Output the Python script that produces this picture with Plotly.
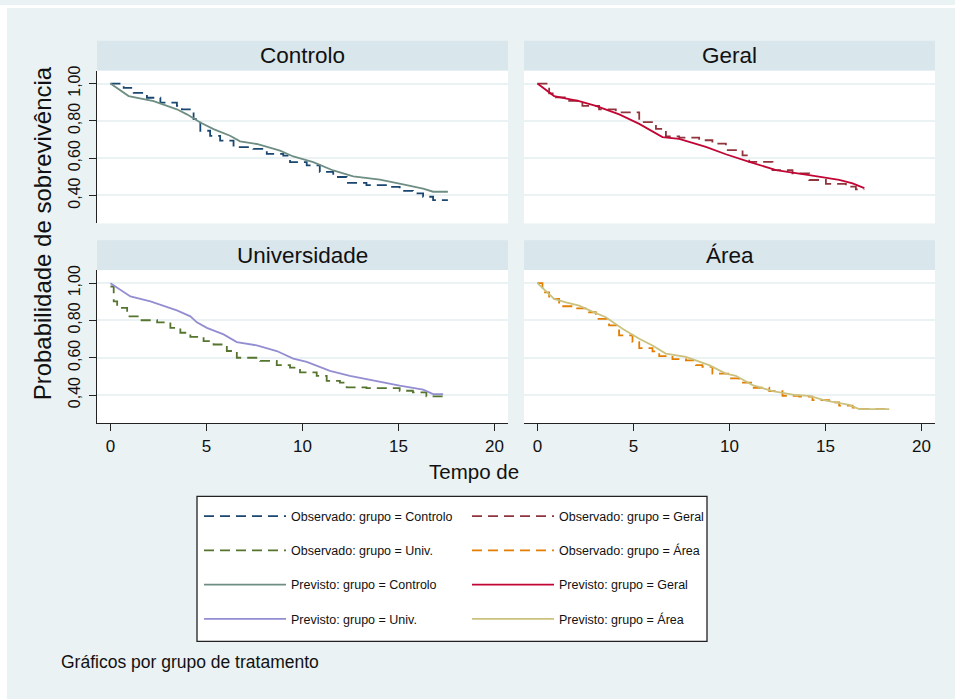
import plotly.graph_objects as go

W, H = 955, 699
FONT = "Liberation Sans, Arial, sans-serif"

# ---------------- data ----------------
obs_ctrl_t = [0, 0.69, 1.21, 1.9, 2.6, 3.46, 3.72, 4.33, 4.68, 5.19, 5.71, 6.41, 7.44, 8.14, 9.0, 9.35,
              10.22, 10.9, 11.6, 12.3, 13.33, 14.55, 15.06, 15.75, 16.28, 16.8, 17.57]
obs_ctrl_s = [1.0, 0.977, 0.95, 0.924, 0.898, 0.88, 0.862, 0.809, 0.747, 0.72, 0.694, 0.659, 0.65, 0.623,
              0.614, 0.579, 0.561, 0.526, 0.499, 0.467, 0.455, 0.446, 0.425, 0.411, 0.393, 0.375, 0.375]
prev_ctrl_t = [0, 0.95, 2.25, 3.46, 3.98, 4.68, 5.37, 6.23, 6.75, 7.62, 8.83, 9.52, 10.56, 11.6, 12.64,
               14.03, 15.24, 16.28, 16.8, 17.57]
prev_ctrl_s = [1.0, 0.933, 0.906, 0.862, 0.835, 0.791, 0.756, 0.72, 0.69, 0.676, 0.64, 0.609, 0.579,
               0.534, 0.502, 0.485, 0.46, 0.437, 0.42, 0.42]

obs_geral_t = [0, 0.61, 0.96, 1.48, 2.34, 3.21, 4.08, 5.3, 6.17, 6.69, 7.38, 8.42, 9.11, 9.81, 10.68,
               11.03, 12.24, 13.28, 14.15, 15.02, 16.06, 16.58, 17.02]
obs_geral_s = [1.0, 0.947, 0.926, 0.908, 0.88, 0.862, 0.846, 0.793, 0.757, 0.717, 0.71, 0.696, 0.678,
               0.643, 0.615, 0.58, 0.536, 0.518, 0.483, 0.462, 0.447, 0.433, 0.433]
prev_geral_t = [0, 0.87, 2.17, 3.04, 4.26, 5.3, 6.51, 7.38, 8.77, 9.81, 11.03, 12.42, 14.15, 15.71,
                16.41, 17.02]
prev_geral_s = [1.0, 0.933, 0.906, 0.88, 0.835, 0.784, 0.713, 0.704, 0.66, 0.621, 0.58, 0.536, 0.509,
                0.483, 0.465, 0.439]

obs_univ_t = [0, 0.17, 0.35, 0.87, 1.56, 2.43, 3.12, 3.64, 4.16, 4.85, 5.37, 6.06, 6.58, 7.79, 8.66,
              9.35, 9.87, 10.74, 11.26, 11.95, 12.3, 13.33, 15.06, 15.75, 16.45, 17.4]
obs_univ_s = [0.982, 0.902, 0.867, 0.822, 0.801, 0.79, 0.76, 0.734, 0.712, 0.689, 0.671, 0.636, 0.6,
              0.583, 0.56, 0.547, 0.521, 0.503, 0.476, 0.467, 0.441, 0.437, 0.423, 0.414, 0.393, 0.393]
prev_univ_t = [0, 1.04, 2.08, 3.46, 4.16, 4.5, 5.02, 5.89, 6.58, 7.62, 8.66, 9.52, 10.22, 11.43, 12.47,
               13.33, 15.06, 16.28, 16.8, 17.32]
prev_univ_s = [1.0, 0.929, 0.902, 0.854, 0.822, 0.79, 0.76, 0.725, 0.684, 0.666, 0.636, 0.595, 0.578,
               0.53, 0.503, 0.485, 0.45, 0.429, 0.405, 0.405]

obs_area_t = [0, 0.26, 0.61, 1.13, 2.0, 2.69, 3.04, 3.73, 4.25, 4.95, 5.3, 5.99, 6.34, 7.03, 7.73, 8.25,
              8.59, 9.11, 9.98, 10.5, 11.2, 12.07, 12.76, 13.63, 14.32, 15.19, 15.71, 16.41, 16.75, 18.32]
obs_area_s = [1.0, 0.95, 0.915, 0.876, 0.865, 0.844, 0.808, 0.773, 0.72, 0.684, 0.652, 0.634, 0.609,
              0.592, 0.586, 0.56, 0.551, 0.515, 0.489, 0.467, 0.439, 0.421, 0.396, 0.391, 0.373, 0.361,
              0.343, 0.333, 0.324, 0.324]
prev_area_t = [0, 0.87, 1.48, 2.17, 2.86, 3.56, 4.43, 5.3, 5.99, 6.68, 7.73, 8.94, 9.81, 10.33, 11.2,
               12.24, 13.45, 14.15, 15.02, 16.23, 16.75, 18.32]
prev_area_s = [1.0, 0.915, 0.897, 0.879, 0.847, 0.817, 0.755, 0.702, 0.666, 0.622, 0.604, 0.56, 0.515,
               0.503, 0.453, 0.421, 0.4, 0.396, 0.37, 0.347, 0.324, 0.324]

panel_titles = ["Controlo", "Geral", "Universidade", "Área"]
y_tickvals = [0.4, 0.6, 0.8, 1.0]
y_ticktext = ["0,40", "0,60", "0,80", "1,00"]
x_tickvals = [0, 5, 10, 15, 20]
x_ticktext = ["0", "5", "10", "15", "20"]

# colours (Stata s2color)
C_OBS_CTRL, C_OBS_GERAL, C_OBS_UNIV, C_OBS_AREA = "#1a476f", "#90353b", "#55752f", "#e37e00"
C_PRV_CTRL, C_PRV_GERAL, C_PRV_UNIV, C_PRV_AREA = "#6e8e84", "#c10534", "#938dd2", "#cac27e"

BG = "#EAF2F3"
STRIP = "#D9E6EB"
DASH = "10px,6px"
LW = 1.8

def px(x):
    return x / W

def py(y):
    return 1 - y / H

fig = go.Figure()

series = [
    (obs_ctrl_t, obs_ctrl_s, C_OBS_CTRL, DASH, "Observado: grupo = Controlo", "x", "y", "legend", 1, "hv"),
    (obs_univ_t, obs_univ_s, C_OBS_UNIV, DASH, "Observado: grupo = Univ.", "x3", "y3", "legend", 2, "hv"),
    (prev_ctrl_t, prev_ctrl_s, C_PRV_CTRL, "solid", "Previsto: grupo = Controlo", "x", "y", "legend", 3, "linear"),
    (prev_univ_t, prev_univ_s, C_PRV_UNIV, "solid", "Previsto: grupo = Univ.", "x3", "y3", "legend", 4, "linear"),
    (obs_geral_t, obs_geral_s, C_OBS_GERAL, DASH, "Observado: grupo = Geral", "x2", "y2", "legend2", 1, "hv"),
    (obs_area_t, obs_area_s, C_OBS_AREA, DASH, "Observado: grupo = Área", "x4", "y4", "legend2", 2, "hv"),
    (prev_geral_t, prev_geral_s, C_PRV_GERAL, "solid", "Previsto: grupo = Geral", "x2", "y2", "legend2", 3, "linear"),
    (prev_area_t, prev_area_s, C_PRV_AREA, "solid", "Previsto: grupo = Área", "x4", "y4", "legend2", 4, "linear"),
]

for t, s, col, dash, name, xa, ya, leg, rank, shp in series:
    fig.add_trace(go.Scatter(
        x=t, y=s, mode="lines", name=name, xaxis=xa, yaxis=ya,
        line=dict(color=col, width=LW, dash=dash, shape=shp),
        legend=leg, legendrank=rank, legendgroup=name, showlegend=True,
        hoverinfo="skip",
    ))

XL = [97, 508]
XR = [524, 935]
YT = [66, 220]
YB = [267, 421]
XRANGE = [-0.7, 20.7]
YRANGE = [0.25, 1.07]

common_y = dict(range=YRANGE, tickvals=y_tickvals, ticktext=y_ticktext, showgrid=True,
                gridcolor=BG, gridwidth=1.5, zeroline=False, fixedrange=True)
left_y = dict(common_y, showline=True, linecolor="#222", linewidth=1.3, ticks="outside", ticklen=7,
              tickcolor="#222", tickwidth=1.3, tickangle=-90, ticklabelstandoff=2,
              tickfont=dict(size=16, color="#111", family=FONT))
right_y = dict(common_y, showline=False, ticks="", showticklabels=False)
top_x = dict(range=XRANGE, showgrid=False, zeroline=False, showline=False, ticks="",
             showticklabels=False, fixedrange=True)
bot_x = dict(range=XRANGE, showgrid=False, zeroline=False, showline=True, linecolor="#222",
             linewidth=1.3, ticks="outside", ticklen=7, tickcolor="#222", tickwidth=1.3,
             tickvals=x_tickvals, ticktext=x_ticktext,
             tickfont=dict(size=17, color="#111", family=FONT), fixedrange=True)

fig.update_layout(
    width=W, height=H,
    margin=dict(l=0, r=0, t=0, b=0),
    paper_bgcolor=BG, plot_bgcolor="white",
    font=dict(family=FONT, color="#111"),
    xaxis=dict(top_x, domain=[px(XL[0]), px(XL[1])], anchor="y"),
    yaxis=dict(left_y, domain=[py(YT[1]), py(YT[0])], anchor="x"),
    xaxis2=dict(top_x, domain=[px(XR[0]), px(XR[1])], anchor="y2"),
    yaxis2=dict(right_y, domain=[py(YT[1]), py(YT[0])], anchor="x2"),
    xaxis3=dict(bot_x, domain=[px(XL[0]), px(XL[1])], anchor="y3"),
    yaxis3=dict(left_y, domain=[py(YB[1]), py(YB[0])], anchor="x3"),
    xaxis4=dict(bot_x, domain=[px(XR[0]), px(XR[1])], anchor="y4"),
    yaxis4=dict(right_y, domain=[py(YB[1]), py(YB[0])], anchor="x4"),
    showlegend=True,
)

leg_common = dict(orientation="v", bgcolor="rgba(0,0,0,0)", borderwidth=0,
                  font=dict(size=12.5, color="#111", family=FONT),
                  tracegroupgap=15, itemwidth=82, traceorder="grouped",
                  xanchor="left", yanchor="top", itemclick=False, itemdoubleclick=False)
fig.update_layout(
    legend=dict(leg_common, x=px(199), y=py(500)),
    legend2=dict(leg_common, x=px(467), y=py(500)),
)

shapes = []
shapes.append(dict(type="rect", xref="paper", yref="paper", x0=0, x1=px(7), y0=0, y1=1,
                   fillcolor="white", line=dict(width=0), layer="above"))
shapes.append(dict(type="rect", xref="paper", yref="paper", x0=0, x1=1, y0=py(3), y1=1,
                   fillcolor="white", line=dict(width=0), layer="above"))
for (xa, ya) in [(XL, 36), (XR, 36), (XL, 237), (XR, 237)]:
    shapes.append(dict(type="rect", xref="paper", yref="paper", x0=px(xa[0]), x1=px(xa[1]),
                       y0=py(ya + 30), y1=py(ya), fillcolor=STRIP, line=dict(width=0), layer="above"))
shapes.append(dict(type="rect", xref="paper", yref="paper", x0=px(197), x1=px(707), y0=py(641), y1=py(495),
                   fillcolor="white", line=dict(color="#222", width=1.3), layer="above"))
fig.update_layout(shapes=shapes)

ann = []
for title, (xa, ya) in zip(panel_titles, [(XL, 36), (XR, 36), (XL, 237), (XR, 237)]):
    ann.append(dict(text=title, xref="paper", yref="paper", x=px((xa[0] + xa[1]) / 2), y=py(ya + 15),
                    xanchor="center", yanchor="middle", showarrow=False,
                    font=dict(size=22.5, color="#111", family=FONT)))
ann.append(dict(text="Probabilidade de sobrevivência", xref="paper", yref="paper", x=px(42), y=py(230),
                xanchor="center", yanchor="middle", textangle=-90, showarrow=False,
                font=dict(size=24, color="#111", family=FONT)))
ann.append(dict(text="Tempo de", xref="paper", yref="paper", x=px(474), y=py(470),
                xanchor="center", yanchor="middle", showarrow=False,
                font=dict(size=20.5, color="#111", family=FONT)))
ann.append(dict(text="Gráficos por grupo de tratamento", xref="paper", yref="paper", x=px(59), y=py(662),
                xanchor="left", yanchor="middle", showarrow=False,
                font=dict(size=17.5, color="#111", family=FONT)))
fig.update_layout(annotations=ann)

fig.write_html(
    "out.html", config={"displayModeBar": False},
    post_script=("document.body.style.margin='0';document.body.style.overflow='hidden';"
                 "document.documentElement.style.overflow='hidden';"
                 "document.body.style.background='" + BG + "';"
                 "document.documentElement.style.background='" + BG + "';"))
